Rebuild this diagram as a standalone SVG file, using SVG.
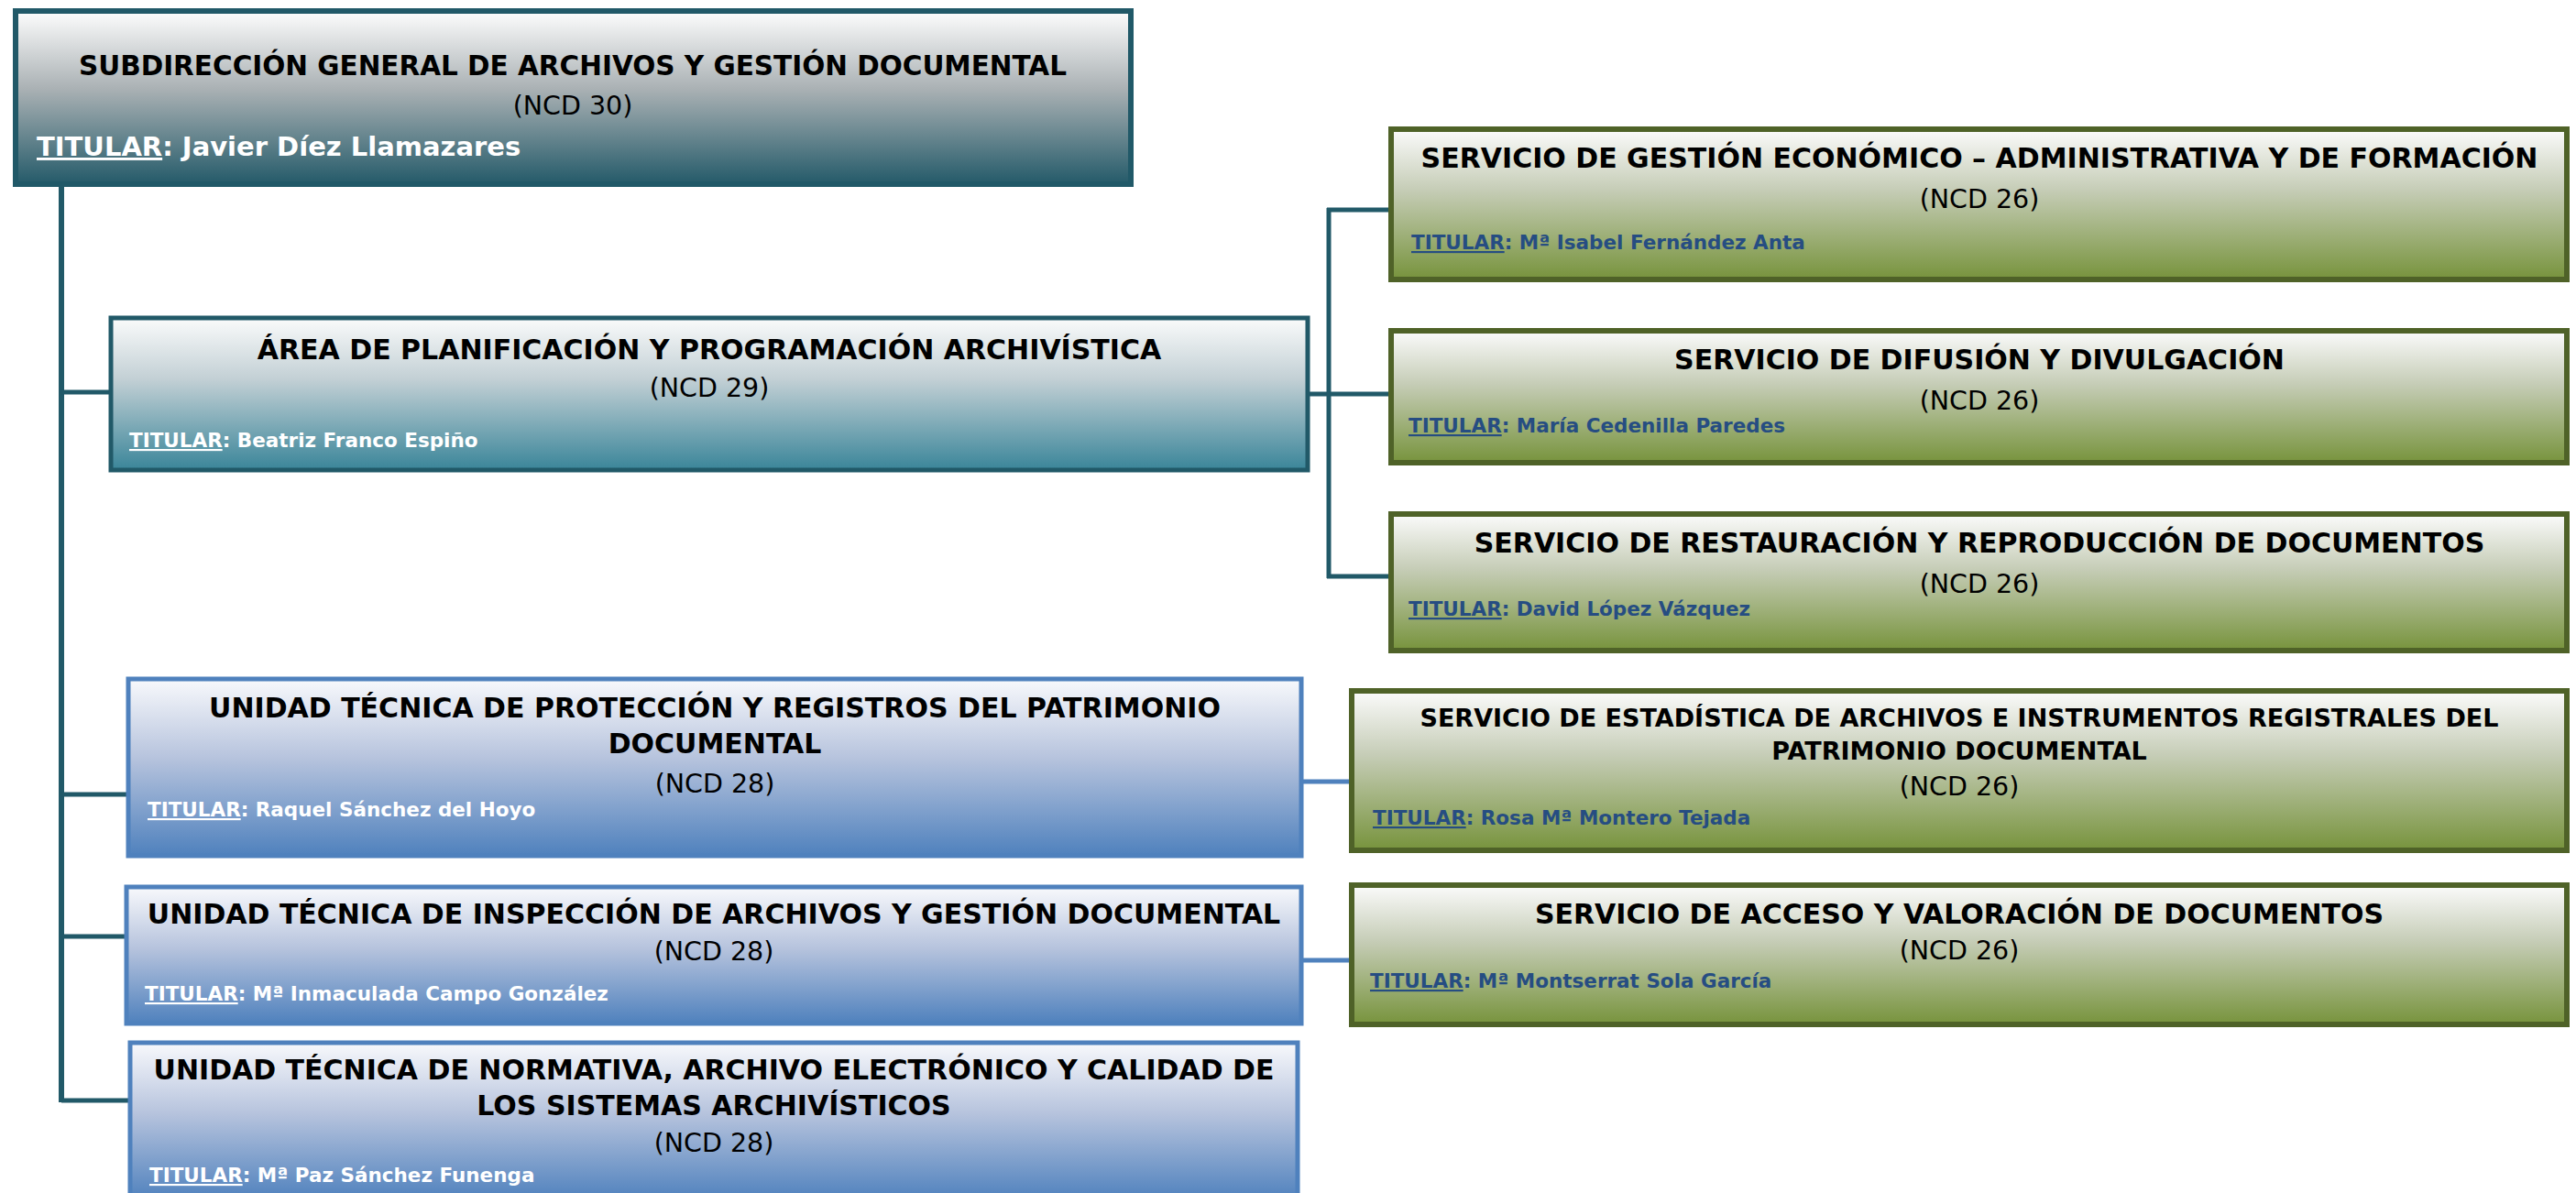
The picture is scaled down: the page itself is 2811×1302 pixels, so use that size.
<svg xmlns="http://www.w3.org/2000/svg" width="2811" height="1302" viewBox="0 0 2811 1302">
<defs>
<linearGradient id="gTop" x1="0" y1="0" x2="0" y2="1"><stop offset="0" stop-color="#fdfdfd"/><stop offset="0.45" stop-color="#aab1b4"/><stop offset="1" stop-color="#245a69"/></linearGradient>
<linearGradient id="gArea" x1="0" y1="0" x2="0" y2="1"><stop offset="0" stop-color="#fafbfb"/><stop offset="0.4" stop-color="#c3d0d5"/><stop offset="1" stop-color="#3a8599"/></linearGradient>
<linearGradient id="gBlue" x1="0" y1="0" x2="0" y2="1"><stop offset="0" stop-color="#f8f9fc"/><stop offset="0.45" stop-color="#b6c3dd"/><stop offset="1" stop-color="#4f81bd"/></linearGradient>
<linearGradient id="gGreen" x1="0" y1="0" x2="0" y2="1"><stop offset="0" stop-color="#fbfbfb"/><stop offset="0.4" stop-color="#c6cdb7"/><stop offset="1" stop-color="#77933c"/></linearGradient>
</defs>
<style>
text{font-family:"DejaVu Sans","Liberation Sans",sans-serif}
.t{font-weight:bold;font-size:30px;fill:#000;text-anchor:middle}
.t2{font-weight:bold;font-size:27px;fill:#000;text-anchor:middle}
.n{font-size:28.5px;fill:#000;text-anchor:middle}
.w{font-weight:bold;font-size:21.5px;fill:#fff}
.b{font-weight:bold;font-size:21.5px;fill:#264d82}
.wl{font-weight:bold;font-size:29px;fill:#fff}
.u{text-decoration:underline}
.bxTop{fill:url(#gTop);stroke:#215968;stroke-width:6}
.bxArea{fill:url(#gArea);stroke:#215968;stroke-width:5}
.bxBlue{fill:url(#gBlue);stroke:#4f81bd;stroke-width:5}
.bxGreen{fill:url(#gGreen);stroke:#4f6228;stroke-width:6}
.cT{stroke:#215968;stroke-width:5;fill:none}
.cB{stroke:#4f81bd;stroke-width:5;fill:none}
</style>
<g id="connectors">
<line class="cT" x1="67" y1="204" x2="67" y2="1203" style="stroke-width:6"/>
<line class="cT" x1="67" y1="428" x2="120" y2="428"/>
<line class="cT" x1="67" y1="867" x2="138" y2="867"/>
<line class="cT" x1="67" y1="1022" x2="136" y2="1022"/>
<line class="cT" x1="67" y1="1201" x2="140" y2="1201"/>
<line class="cT" x1="1428" y1="430" x2="1450" y2="430"/>
<line class="cT" x1="1450" y1="227" x2="1450" y2="631"/>
<line class="cT" x1="1448" y1="229" x2="1516" y2="229"/>
<line class="cT" x1="1450" y1="430" x2="1516" y2="430"/>
<line class="cT" x1="1448" y1="629" x2="1516" y2="629"/>
<line class="cB" x1="1422" y1="853" x2="1473" y2="853"/>
<line class="cB" x1="1422" y1="1048" x2="1473" y2="1048"/>
</g>
<g id="n-subdireccion">
<rect class="bxTop" x="17" y="12" width="1217" height="189"/>
<text class="t" x="625" y="82" style="font-size:29.5px">SUBDIRECCIÓN GENERAL DE ARCHIVOS Y GESTIÓN DOCUMENTAL</text>
<text class="n" x="625" y="125">(NCD 30)</text>
<text class="wl" x="40" y="170"><tspan class="u">TITULAR</tspan>: Javier Díez Llamazares</text>
</g>
<g id="n-area">
<rect class="bxArea" x="121" y="347" width="1306" height="166"/>
<text class="t" x="774" y="392">ÁREA DE PLANIFICACIÓN Y PROGRAMACIÓN ARCHIVÍSTICA</text>
<text class="n" x="774" y="433">(NCD 29)</text>
<text class="w" x="141" y="488"><tspan class="u">TITULAR</tspan>: Beatriz Franco Espiño</text>
</g>
<g id="n-gestion">
<rect class="bxGreen" x="1518" y="141" width="1283" height="164"/>
<text class="t" x="2160" y="183">SERVICIO DE GESTIÓN ECONÓMICO – ADMINISTRATIVA Y DE FORMACIÓN</text>
<text class="n" x="2160" y="227">(NCD 26)</text>
<text class="b" x="1540" y="272"><tspan class="u">TITULAR</tspan>: Mª Isabel Fernández Anta</text>
</g>
<g id="n-difusion">
<rect class="bxGreen" x="1518" y="361" width="1283" height="144"/>
<text class="t" x="2160" y="403">SERVICIO DE DIFUSIÓN Y DIVULGACIÓN</text>
<text class="n" x="2160" y="447">(NCD 26)</text>
<text class="b" x="1537" y="472"><tspan class="u">TITULAR</tspan>: María Cedenilla Paredes</text>
</g>
<g id="n-restauracion">
<rect class="bxGreen" x="1518" y="561" width="1283" height="149"/>
<text class="t" x="2160" y="603">SERVICIO DE RESTAURACIÓN Y REPRODUCCIÓN DE DOCUMENTOS</text>
<text class="n" x="2160" y="647">(NCD 26)</text>
<text class="b" x="1537" y="672"><tspan class="u">TITULAR</tspan>: David López Vázquez</text>
</g>
<g id="n-proteccion">
<rect class="bxBlue" x="140" y="741" width="1280" height="193"/>
<text class="t" x="780" y="783">UNIDAD TÉCNICA DE PROTECCIÓN Y REGISTROS DEL PATRIMONIO</text>
<text class="t" x="780" y="822">DOCUMENTAL</text>
<text class="n" x="780" y="865">(NCD 28)</text>
<text class="w" x="161" y="891"><tspan class="u">TITULAR</tspan>: Raquel Sánchez del Hoyo</text>
</g>
<g id="n-estadistica">
<rect class="bxGreen" x="1475" y="754" width="1326" height="174"/>
<text class="t2" x="2138" y="793">SERVICIO DE ESTADÍSTICA DE ARCHIVOS E INSTRUMENTOS REGISTRALES DEL</text>
<text class="t2" x="2138" y="829">PATRIMONIO DOCUMENTAL</text>
<text class="n" x="2138" y="868">(NCD 26)</text>
<text class="b" x="1498" y="900"><tspan class="u">TITULAR</tspan>: Rosa Mª Montero Tejada</text>
</g>
<g id="n-inspeccion">
<rect class="bxBlue" x="138" y="968" width="1282" height="149"/>
<text class="t" x="779" y="1008">UNIDAD TÉCNICA DE INSPECCIÓN DE ARCHIVOS Y GESTIÓN DOCUMENTAL</text>
<text class="n" x="779" y="1048">(NCD 28)</text>
<text class="w" x="158" y="1092"><tspan class="u">TITULAR</tspan>: Mª Inmaculada Campo González</text>
</g>
<g id="n-acceso">
<rect class="bxGreen" x="1475" y="966" width="1326" height="152"/>
<text class="t" x="2138" y="1008">SERVICIO DE ACCESO Y VALORACIÓN DE DOCUMENTOS</text>
<text class="n" x="2138" y="1047">(NCD 26)</text>
<text class="b" x="1495" y="1078"><tspan class="u">TITULAR</tspan>: Mª Montserrat Sola García</text>
</g>
<g id="n-normativa">
<rect class="bxBlue" x="142" y="1138" width="1274" height="172"/>
<text class="t" x="779" y="1178">UNIDAD TÉCNICA DE NORMATIVA, ARCHIVO ELECTRÓNICO Y CALIDAD DE</text>
<text class="t" x="779" y="1217">LOS SISTEMAS ARCHIVÍSTICOS</text>
<text class="n" x="779" y="1257">(NCD 28)</text>
<text class="w" x="163" y="1290"><tspan class="u">TITULAR</tspan>: Mª Paz Sánchez Funenga</text>
</g>
</svg>
